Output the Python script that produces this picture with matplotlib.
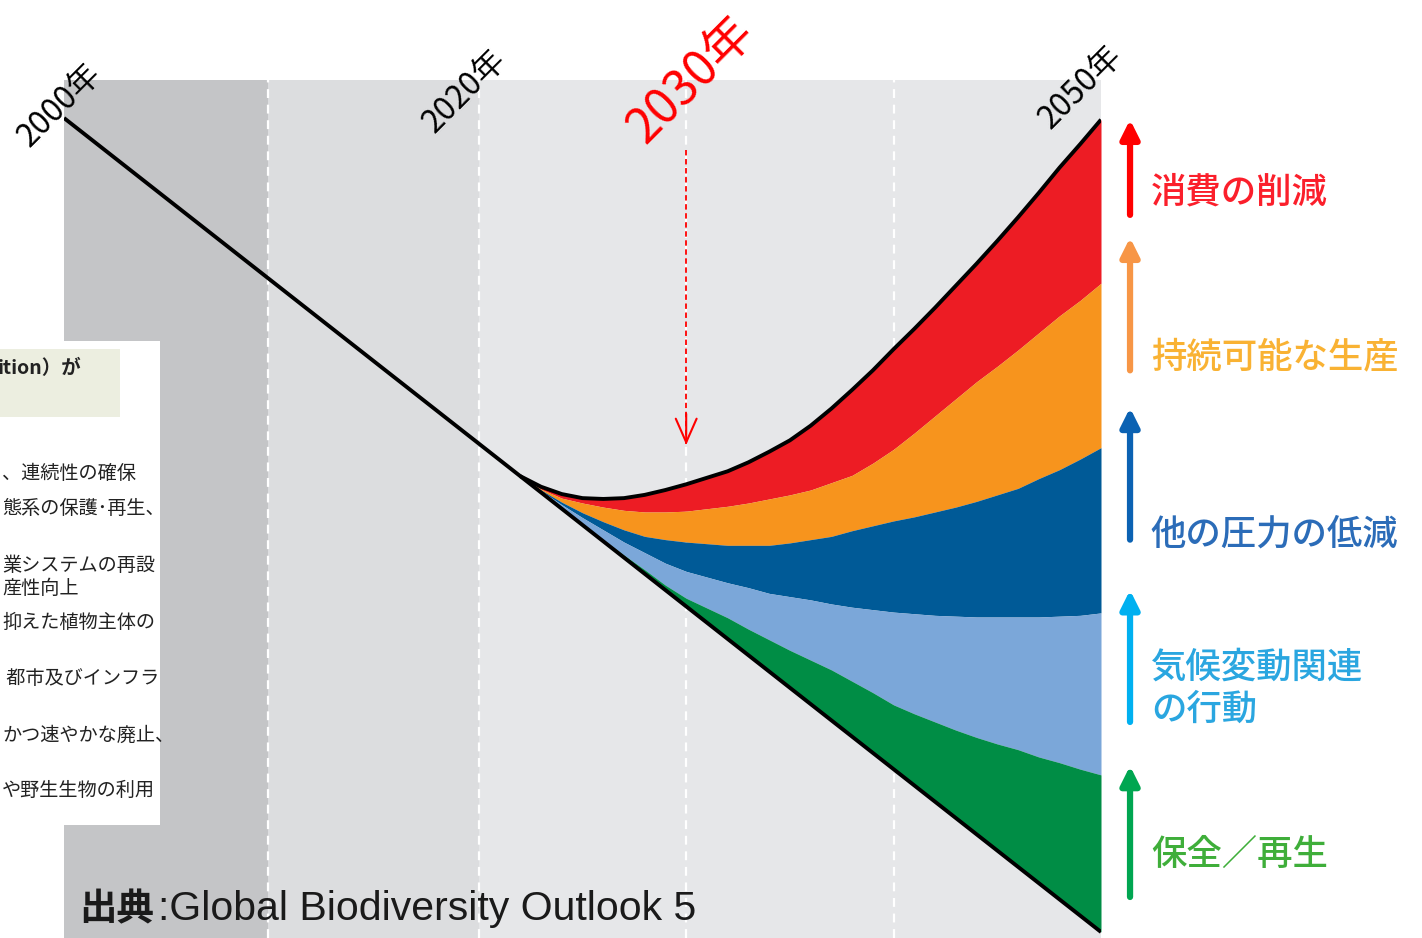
import matplotlib
matplotlib.use("Agg")
import matplotlib.pyplot as plt
from matplotlib.patches import Rectangle

plt.rcParams['font.family'] = ['Noto Sans CJK JP', 'DejaVu Sans']

# baseline trend (business as usual)
trend_years = [2000, 2050]
trend_vals = [100, 0]

# stacked wedge boundaries (one value per year)
band_years = list(range(2022, 2051))
trend_at_band = [56, 54, 52, 50, 48, 46, 44, 42, 40, 38, 36, 34, 32, 30, 28, 26, 24, 22, 20,
                 18, 16, 14, 12, 10, 8, 6, 4, 2, 0]
top_curve = [56.0, 54.7, 53.8, 53.3, 53.2, 53.3, 53.7, 54.3, 55.0, 55.8, 56.6, 57.7, 59.0, 60.4,
             62.2, 64.3, 66.6, 69.0, 71.6, 74.1, 76.7, 79.4, 82.1, 84.9, 87.8, 90.8, 93.9, 96.8, 99.8]
red_orange = [56.0, 54.4, 53.3, 52.7, 52.2, 51.8, 51.6, 51.6, 51.7, 52.0, 52.3, 52.7, 53.2, 53.7,
              54.3, 55.2, 56.1, 57.6, 59.3, 61.3, 63.4, 65.5, 67.6, 69.5, 71.5, 73.6, 75.7, 77.6, 79.7]
orange_blue = [56.0, 54.3, 52.8, 51.5, 50.4, 49.4, 48.6, 48.2, 47.9, 47.7, 47.5, 47.5, 47.5, 47.8,
               48.2, 48.6, 49.3, 49.9, 50.5, 51.0, 51.6, 52.2, 52.9, 53.7, 54.5, 55.7, 56.8, 58.1, 59.5]
blue_light = [56.0, 54.2, 52.5, 50.9, 49.4, 47.9, 46.6, 45.3, 44.3, 43.6, 42.9, 42.3, 41.6, 41.2,
              40.8, 40.3, 39.9, 39.6, 39.3, 39.1, 38.9, 38.8, 38.7, 38.7, 38.7, 38.7, 38.8, 38.9, 39.2]
light_green = [56.0, 54.1, 52.1, 50.1, 48.2, 46.3, 44.5, 42.6, 41.0, 39.8, 38.6, 37.2, 35.9, 34.6,
               33.4, 32.2, 30.8, 29.4, 27.9, 26.8, 25.8, 24.8, 23.9, 23.1, 22.4, 21.5, 20.8, 20.0, 19.3]

band_colors = ['#ed1c24', '#f7941d', '#005a97', '#7ba7d9', '#008d45']

year_labels = ['2000年', '2020年', '2030年', '2050年']

actions = ['消費の削減', '持続可能な生産', '他の圧力の低減', '気候変動関連\nの行動', '保全／再生']
action_colors = ['#fb1f2b', '#f9b233', '#2b6cb8', '#2aa6e0', '#3fae3a']
arrow_colors = ['#ff0000', '#f79646', '#0b62b3', '#00b0f0', '#00a651']
arrow_tail = [88.1, 69.0, 48.2, 25.8, 4.3]
arrow_head = [99.8, 85.3, 64.4, 42.0, 20.4]
label_y = [90.9, 70.6, 48.8, 29.9, 9.5]

box_lines = ['、連続性の確保', '態系の保護･再生、', '業システムの再設', '産性向上',
             '抑えた植物主体の', ' 都市及びインフラ', 'かつ速やかな廃止、', 'や野生生物の利用']
box_line_y = [473, 508, 565, 588, 622, 678, 735, 790]

fig = plt.figure(figsize=(14.22, 9.38), dpi=100)
ax = fig.add_axes([64 / 1422, 0, (1101 - 64) / 1422, (938 - 80) / 938])
ax.set_xlim(2000, 2050)
ax.set_ylim(-0.74, 104.67)
ax.axis('off')

# background periods
ax.axvspan(2000, 2009.85, color='#c4c5c7', zorder=0, lw=0)
ax.axvspan(2009.85, 2020, color='#dcdddf', zorder=0, lw=0)
ax.axvspan(2020, 2050, color='#e6e7e9', zorder=0, lw=0)
for yr in [2009.85, 2020, 2030, 2040]:
    ax.axvline(yr, color='white', lw=1.6, ls=(0, (4, 3)), zorder=1)

# stacked wedges
bounds = [top_curve, red_orange, orange_blue, blue_light, light_green, trend_at_band]
for i, c in enumerate(band_colors):
    ax.fill_between(band_years, bounds[i + 1], bounds[i], color=c, lw=0, zorder=2)

ax.plot(trend_years, trend_vals, color='black', lw=2.8, zorder=3, solid_capstyle='butt')
ax.plot(band_years, top_curve, color='black', lw=2.8, zorder=3, solid_capstyle='butt')

# 2030 arrow
ax.plot([2030, 2030], [96.1, 60.0], color='red', lw=1.3, ls=(0, (3, 2)), zorder=4)
ax.annotate('', xy=(2030, 59.5), xytext=(2030, 64),
            arrowprops=dict(arrowstyle='->,head_length=1.7,head_width=0.75', color='red', lw=1.5),
            zorder=4)

# year labels
ax.text(1999.8, 101.6, year_labels[0], rotation=45, ha='center', va='center', fontsize=23, clip_on=False)
ax.text(2019.3, 103.3, year_labels[1], rotation=45, ha='center', va='center', fontsize=23, clip_on=False)
ax.text(2030.2, 104.6, year_labels[2], rotation=45, ha='center', va='center', fontsize=35,
        color='#ff0000', clip_on=False)
ax.text(2049.0, 103.8, year_labels[3], rotation=45, ha='center', va='center', fontsize=23, clip_on=False)

# right side arrows and labels
for i in range(5):
    ax.annotate('', xy=(2051.4, arrow_head[i]), xytext=(2051.4, arrow_tail[i]),
                arrowprops=dict(arrowstyle='-|>,head_length=1.1,head_width=0.55', color=arrow_colors[i],
                                lw=4.5, shrinkA=0, shrinkB=0),
                annotation_clip=False)
    ax.text(2052.4, label_y[i], actions[i], color=action_colors[i], fontsize=25.5, fontweight='medium',
            ha='left', va='center', linespacing=1.2, clip_on=False)

# overlay box on the left
fig.patches.append(Rectangle((0, 1 - 825 / 938), 160 / 1422, (825 - 341) / 938,
                             transform=fig.transFigure, facecolor='white', edgecolor='none', zorder=5))
fig.patches.append(Rectangle((0, 1 - 417 / 938), 120 / 1422, (417 - 349) / 938,
                             transform=fig.transFigure, facecolor='#eceee0', edgecolor='none', zorder=6))
fig.text(-2 / 1422, 1 - 369 / 938, 'ition）が', fontsize=14, fontweight='bold', color='#222222',
         ha='left', va='center', zorder=7)
for t, yy in zip(box_lines, box_line_y):
    fig.text(2 / 1422, 1 - yy / 938, t, fontsize=13.8, color='#222222', ha='left', va='center', zorder=7)

# source
fig.text(79 / 1422, 1 - 909 / 938, '出典', fontsize=27, fontweight='bold', color='#1a1a1a',
         ha='left', va='center', zorder=7)
fig.text(158 / 1422, 1 - 909 / 938, ':Global Biodiversity Outlook 5', fontsize=29.5,
         family=['Liberation Sans', 'DejaVu Sans'], color='#1a1a1a',
         ha='left', va='center', zorder=7)

fig.savefig('out.png', dpi=100)
